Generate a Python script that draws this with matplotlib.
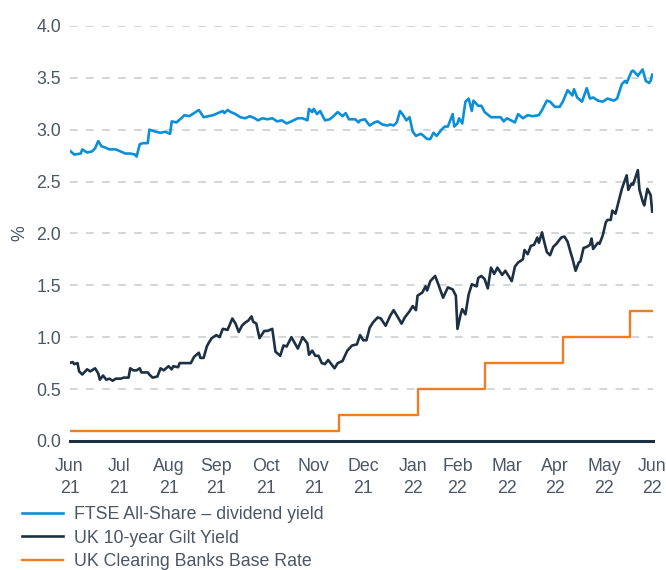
import numpy as np
import pandas as pd
import matplotlib
matplotlib.use("Agg")
import matplotlib.pyplot as plt

plt.rcParams["font.family"] = ["Liberation Sans", "DejaVu Sans"]

START = pd.Timestamp("2021-06-30")

# days since 30 Jun 2021, values in %
ftse_day = [0, 3, 7, 8, 11, 14, 16, 18, 20, 22, 25, 29, 32, 35, 38, 41, 42, 44, 46, 49,
            50, 54, 57, 60, 63, 64, 67, 70, 72, 75, 77, 81, 84, 87, 90, 93, 96, 97, 99, 101,
            104, 107, 110, 113, 116, 118, 121, 124, 127, 130, 133, 136, 139, 143, 146, 149, 150, 152, 153, 155,
            157, 160, 163, 166, 168, 171, 173, 175, 179, 181, 182, 185, 188, 191, 193, 196, 199, 201, 203, 205,
            207, 209, 211, 213, 215, 217, 220, 221, 224, 226, 228, 230, 233, 235, 237, 240, 241, 243, 244, 246,
            248, 250, 252, 253, 256, 258, 260, 264, 267, 270, 272, 274, 279, 281, 284, 287, 290, 294, 296, 299,
            301, 304, 307, 309, 312, 315, 316, 318, 321, 324, 326, 328, 331, 334, 337, 339, 341, 343, 346, 348,
            349, 352, 353, 356, 357, 359, 361, 363, 364, 365]
ftse_yield = [2.80, 2.76, 2.77, 2.81, 2.78, 2.79, 2.82, 2.89, 2.84, 2.83, 2.81, 2.81, 2.79, 2.77, 2.77, 2.76, 2.74, 2.86, 2.87, 2.87,
              3.00, 2.98, 2.97, 2.98, 2.96, 3.08, 3.07, 3.11, 3.14, 3.13, 3.15, 3.19, 3.12, 3.13, 3.14, 3.16, 3.18, 3.16, 3.19, 3.17,
              3.15, 3.12, 3.11, 3.13, 3.11, 3.09, 3.11, 3.10, 3.11, 3.08, 3.09, 3.06, 3.08, 3.11, 3.11, 3.09, 3.20, 3.17, 3.20, 3.15,
              3.18, 3.09, 3.10, 3.14, 3.17, 3.13, 3.16, 3.10, 3.10, 3.07, 3.09, 3.10, 3.04, 3.07, 3.08, 3.05, 3.04, 3.05, 3.04, 3.07,
              3.18, 3.14, 3.09, 3.12, 2.98, 2.94, 2.96, 2.95, 2.91, 2.91, 2.97, 2.94, 3.00, 3.03, 3.03, 3.15, 3.03, 3.06, 3.11, 3.06,
              3.27, 3.30, 3.18, 3.28, 3.23, 3.23, 3.17, 3.12, 3.12, 3.12, 3.08, 3.11, 3.07, 3.15, 3.11, 3.14, 3.13, 3.14, 3.19, 3.28,
              3.27, 3.22, 3.22, 3.27, 3.38, 3.33, 3.39, 3.31, 3.27, 3.40, 3.30, 3.31, 3.28, 3.27, 3.30, 3.29, 3.28, 3.30, 3.44, 3.47,
              3.45, 3.56, 3.57, 3.52, 3.54, 3.58, 3.47, 3.45, 3.47, 3.53]

gilt_day = [0, 2, 3, 5, 6, 8, 11, 13, 16, 18, 19, 21, 23, 25, 27, 29, 32, 34, 37, 38,
            40, 42, 44, 45, 49, 50, 52, 55, 57, 59, 62, 64, 65, 68, 69, 72, 74, 76, 78, 81,
            82, 84, 86, 87, 89, 92, 94, 96, 99, 102, 104, 106, 108, 110, 112, 114, 115, 117, 119, 122,
            124, 127, 129, 132, 134, 136, 139, 143, 146, 149, 150, 152, 154, 156, 158, 160, 162, 164, 166, 168,
            171, 174, 177, 180, 182, 184, 186, 188, 190, 193, 195, 198, 201, 203, 205, 208, 210, 213, 215, 217,
            218, 221, 223, 224, 226, 229, 231, 234, 237, 240, 242, 243, 245, 246, 248, 250, 252, 255, 256, 258,
            260, 262, 264, 266, 268, 271, 273, 275, 277, 279, 281, 284, 285, 287, 289, 291, 293, 294, 296, 297,
            299, 301, 303, 305, 308, 310, 312, 314, 315, 317, 319, 320, 322, 324, 326, 327, 328, 331, 332, 334,
            336, 337, 339, 340, 342, 344, 346, 349, 350, 352, 353, 356, 357, 359, 360, 362, 364, 365]
gilt_yield = [0.75, 0.76, 0.74, 0.75, 0.67, 0.64, 0.69, 0.67, 0.70, 0.65, 0.59, 0.63, 0.59, 0.60, 0.58, 0.60, 0.60, 0.61, 0.61, 0.70,
              0.68, 0.68, 0.70, 0.66, 0.66, 0.64, 0.61, 0.62, 0.70, 0.68, 0.72, 0.69, 0.72, 0.71, 0.75, 0.75, 0.75, 0.75, 0.81, 0.85,
              0.80, 0.80, 0.91, 0.94, 0.99, 1.02, 1.00, 1.08, 1.07, 1.18, 1.13, 1.05, 1.11, 1.14, 1.16, 1.20, 1.15, 1.13, 0.99, 1.06,
              1.06, 1.08, 0.86, 0.82, 0.92, 0.91, 1.00, 0.89, 1.00, 0.94, 0.83, 0.87, 0.82, 0.82, 0.75, 0.74, 0.78, 0.74, 0.70, 0.75,
              0.77, 0.87, 0.92, 0.93, 1.02, 0.97, 0.97, 1.09, 1.14, 1.19, 1.18, 1.11, 1.21, 1.26, 1.21, 1.13, 1.19, 1.25, 1.30, 1.26,
              1.40, 1.43, 1.49, 1.45, 1.54, 1.59, 1.51, 1.38, 1.48, 1.46, 1.40, 1.08, 1.22, 1.27, 1.22, 1.41, 1.51, 1.49, 1.57, 1.59,
              1.56, 1.47, 1.67, 1.61, 1.67, 1.60, 1.64, 1.59, 1.54, 1.68, 1.72, 1.75, 1.84, 1.80, 1.88, 1.89, 1.96, 1.91, 2.01, 1.94,
              1.82, 1.79, 1.87, 1.90, 1.96, 1.97, 1.92, 1.81, 1.76, 1.64, 1.72, 1.73, 1.86, 1.87, 1.89, 1.95, 1.85, 1.91, 1.90, 1.98,
              2.11, 2.13, 2.13, 2.22, 2.19, 2.31, 2.43, 2.56, 2.42, 2.48, 2.47, 2.61, 2.42, 2.31, 2.27, 2.43, 2.37, 2.21]

base_dates = ["2021-06-30", "2021-12-16", "2022-02-03", "2022-03-17", "2022-05-05", "2022-06-16", "2022-06-30"]
base_rate = [0.10, 0.25, 0.50, 0.75, 1.00, 1.25, 1.25]

tick_dates = ["2021-06-30", "2021-07-31", "2021-08-31", "2021-09-30", "2021-10-31", "2021-11-30",
              "2021-12-31", "2022-01-31", "2022-02-28", "2022-03-31", "2022-04-30", "2022-05-31", "2022-06-30"]
tick_labels = ["Jun\n21", "Jul\n21", "Aug\n21", "Sep\n21", "Oct\n21", "Nov\n21", "Dec\n21",
               "Jan\n22", "Feb\n22", "Mar\n22", "Apr\n22", "May\n22", "Jun\n22"]

labels = ["FTSE All-Share \u2013 dividend yield", "UK 10-year Gilt Yield", "UK Clearing Banks Base Rate"]
BLUE, NAVY, ORANGE = "#0c8fd9", "#1d3145", "#ef7d22"
TXT = "#4b5666"
FS = 12.8

fig = plt.figure(figsize=(6.66, 5.70), dpi=100)
ax = fig.add_axes([0.1044, 0.2265, 0.8761, 0.728])

ax.plot(START + pd.to_timedelta(ftse_day, unit="D"), ftse_yield, color=BLUE, lw=1.9, label=labels[0])
ax.plot(START + pd.to_timedelta(gilt_day, unit="D"), gilt_yield, color=NAVY, lw=1.9, label=labels[1])
ax.plot(pd.to_datetime(base_dates), base_rate, color=ORANGE, lw=1.7, drawstyle="steps-post", label=labels[2])

ax.set_xlim(START, pd.Timestamp("2022-06-30 12:00"))
ax.set_ylim(0, 4.0)
ax.set_yticks(np.arange(0, 4.01, 0.5))
ax.set_yticklabels([f"{v:.1f}" for v in np.arange(0, 4.01, 0.5)])
ax.set_xticks(pd.to_datetime(tick_dates))
ax.set_xticklabels(tick_labels, linespacing=1.45)

ax.grid(axis="y", color="#c6cacf", lw=1.1, ls=(0, (5, 5.5)))
ax.set_axisbelow(True)
for s in ["top", "right", "left"]:
    ax.spines[s].set_visible(False)
ax.spines["bottom"].set_color(NAVY)
ax.spines["bottom"].set_linewidth(2.2)
ax.spines["bottom"].set_zorder(3)
ax.tick_params(axis="both", length=0, labelsize=FS, colors=TXT)
ax.tick_params(axis="y", pad=6)
ax.tick_params(axis="x", pad=12)

ax.set_ylabel("%", fontsize=FS, color=TXT)
ax.yaxis.set_label_coords(-0.07, 0.5)

fig.legend(loc="upper left", bbox_to_anchor=(0.033, 0.112), frameon=False, fontsize=FS,
           handlelength=2.3, handletextpad=0.65, labelspacing=0.36, borderpad=0, borderaxespad=0,
           labelcolor=TXT)

fig.savefig("out.png", dpi=100)
